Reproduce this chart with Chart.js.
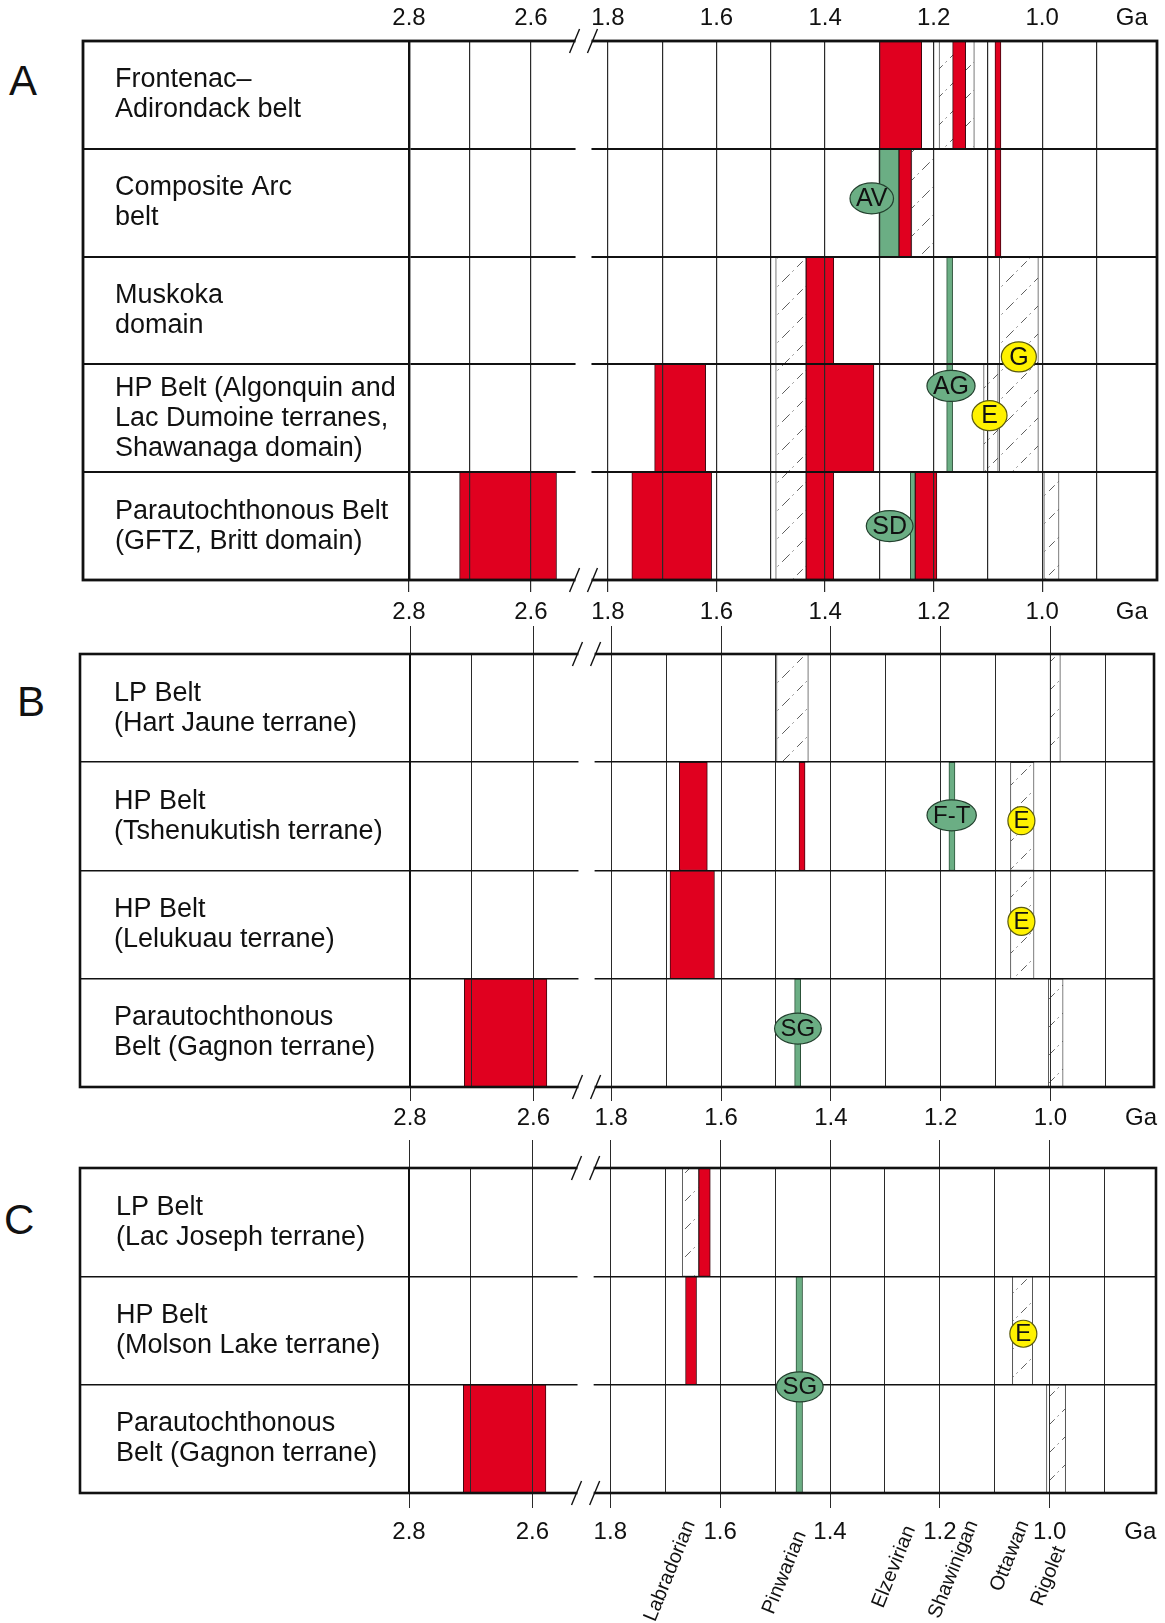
<!DOCTYPE html>
<html>
<head>
<meta charset="utf-8">
<script src="https://cdn.jsdelivr.net/npm/chart.js@4.4.1/dist/chart.umd.min.js"></script>
<style>
  html, body { margin: 0; padding: 0; background: #fff; }
  body { width: 1165px; height: 1623px; position: relative; overflow: hidden; font-family: "Liberation Sans", Arial, sans-serif; }
  canvas { position: absolute; left: 0; }
  .letter { position: absolute; font-size: 42px; line-height: 1; color: #111; }
</style>
</head>
<body>
<div class="letter" style="left:9px;top:60px">A</div>
<div class="letter" style="left:17px;top:681px">B</div>
<div class="letter" style="left:4px;top:1199px">C</div>
<canvas id="chartA" width="1165" height="640" style="top:0px"></canvas>
<canvas id="chartB" width="1165" height="522" style="top:620px"></canvas>
<canvas id="chartC" width="1165" height="493" style="top:1130px"></canvas>
<script>
// time axis (Ga), broken between 2.5 and 1.8
const tickAges = [2.8, 2.7, 2.6, 1.8, 1.7, 1.6, 1.5, 1.4, 1.3, 1.2, 1.1, 1.0, 0.9, 0.835];
const tickLabels = ['2.8', '', '2.6', '1.8', '', '1.6', '', '1.4', '', '1.2', '', '1.0', '', 'Ga'];

const orogenyNames = ['Labradorian', 'Pinwarian', 'Elzevirian', 'Shawinigan', 'Ottawan', 'Rigolet'];
const orogenyAges = [1.655, 1.445, 1.25, 1.14, 1.047, 0.962];

// panel A  -  bars are [first row, last row, older Ga, younger Ga]
const rowsA = [
  ['Frontenac–', 'Adirondack belt'],
  ['Composite Arc', 'belt'],
  ['Muskoka', 'domain'],
  ['HP Belt (Algonquin and', 'Lac Dumoine terranes,', 'Shawanaga domain)'],
  ['Parautochthonous Belt', '(GFTZ, Britt domain)']
];
const redA = [
  [0, 0, 1.300, 1.222], [0, 0, 1.165, 1.141], [0, 1, 1.087, 1.076],
  [1, 1, 1.264, 1.241],
  [2, 2, 1.435, 1.384],
  [3, 3, 1.714, 1.620], [3, 3, 1.435, 1.310],
  [4, 4, 2.717, 2.558], [4, 4, 1.756, 1.609], [4, 4, 1.435, 1.384], [4, 4, 1.234, 1.194]
];
const greenA = [[1, 1, 1.301, 1.264], [2, 3, 1.176, 1.165], [4, 4, 1.243, 1.234]];
const hatchA = [
  [0, 0, 1.190, 1.125], [1, 1, 1.241, 1.200], [2, 4, 1.491, 1.435],
  [2, 3, 1.079, 1.007], [3, 3, 1.108, 1.081], [4, 4, 0.997, 0.969]
];
const markTextA = ['AV', 'AG', 'SD', 'G', 'E'];
const markAgeA = [1.314, 1.168, 1.281, 1.043, 1.097];
const markRowA = [0.96, 2.70, 4.0, 2.43, 2.975];

// panel B
const rowsB = [
  ['LP Belt', '(Hart Jaune terrane)'],
  ['HP Belt', '(Tshenukutish terrane)'],
  ['HP Belt', '(Lelukuau terrane)'],
  ['Parautochthonous', 'Belt (Gagnon terrane)']
];
const redB = [[1, 1, 1.676, 1.625], [1, 1, 1.458, 1.447], [2, 2, 1.693, 1.612], [3, 3, 2.712, 2.578]];
const greenB = [[1, 1, 1.185, 1.174], [3, 3, 1.466, 1.455]];
const hatchB = [[0, 0, 1.499, 1.441], [0, 0, 1.001, 0.982], [1, 2, 1.073, 1.030], [3, 3, 1.004, 0.977]];
const markTextB = ['F-T', 'E', 'E', 'SG'];
const markAgeB = [1.180, 1.053, 1.053, 1.460];
const markRowB = [0.99, 1.04, 1.97, 2.96];

// panel C
const rowsC = [
  ['LP Belt', '(Lac Joseph terrane)'],
  ['HP Belt', '(Molson Lake terrane)'],
  ['Parautochthonous', 'Belt (Gagnon terrane)']
];
const redC = [[0, 0, 1.639, 1.618], [1, 1, 1.663, 1.643], [2, 2, 2.712, 2.578]];
const greenC = [[1, 2, 1.462, 1.450]];
const hatchC = [[0, 0, 1.669, 1.639], [1, 1, 1.068, 1.031], [2, 2, 1.006, 0.971]];
const markTextC = ['E', 'SG'];
const markAgeC = [1.048, 1.455];
const markRowC = [1.03, 1.52];

const RED = '#E0001F';
const GREEN = '#6BAE84';
const YELLOW = '#FFF200';
const BREAK_U = [3.05, 3.38];
// trailing spaces that push a rotated orogeny name further down its slant
const orogenyDrop = [0, 2, 1, 0, 0, 5];

Chart.defaults.font.family = '"Liberation Sans", Arial, sans-serif';
Chart.defaults.color = '#111';

// position on the drawn axis: left part 2.8-2.5 Ga, right part from 1.8 Ga
function toU(age) {
  if (age >= 2.5) return (2.8 - age) * 11.23;
  return 3.665 + (1.8 - age) * 10;
}

function isLabeled(i) {
  return tickLabels[i] !== '' && tickLabels[i] !== 'Ga';
}

function setTimeTicks(scale) {
  scale.ticks = tickAges.map(function (a) { return { value: toU(a) }; });
}

function makeHatch() {
  var c = document.createElement('canvas');
  c.width = 28; c.height = 28;
  var g = c.getContext('2d');
  g.fillStyle = '#fff';
  g.fillRect(0, 0, 28, 28);
  g.strokeStyle = '#5e5e5e';
  g.lineWidth = 1;
  g.setLineDash([8, 4, 1.5, 5]);
  g.beginPath();
  g.moveTo(0, 28);
  g.lineTo(28, 0);
  g.stroke();
  return g.createPattern(c, 'repeat');
}
const hatchFill = makeHatch();

// one bar piece for each row a bar covers
function expandBars(rows, list) {
  var keys = rows.map(function (r) { return r.join(' '); });
  var out = [];
  list.forEach(function (b) {
    for (var r = b[0]; r <= b[1]; r++) {
      out.push({ y: keys[r], x: [toU(b[2]), toU(b[3])] });
    }
  });
  return out;
}

function decorPlugin(markText, markAge, markRow, L) {
  return {
    id: 'panelDecor',
    afterDraw: function (chart) {
      var ctx = chart.ctx;
      var area = chart.chartArea;
      var xs = chart.scales.x;
      var ys = chart.scales.y;
      var left = area.left - ys.options.grid.tickLength;
      ctx.save();

      // outer frame
      ctx.strokeStyle = '#111';
      ctx.lineWidth = L.frame;
      ctx.strokeRect(left, area.top, area.right - left, area.bottom - area.top);

      // axis break: gap and double slashes
      var b0 = xs.getPixelForValue(BREAK_U[0]);
      var b1 = xs.getPixelForValue(BREAK_U[1]);
      ctx.fillStyle = '#fff';
      ctx.fillRect(b0 + 1, area.top - 3, b1 - b0 - 2, area.bottom - area.top + 6);
      ctx.lineWidth = 1.4;
      [area.top, area.bottom].forEach(function (yy) {
        [b0, b1].forEach(function (xx) {
          ctx.beginPath();
          ctx.moveTo(xx - 5, yy + 12);
          ctx.lineTo(xx + 5, yy - 12);
          ctx.stroke();
        });
      });

      // labelled ellipses
      ctx.font = L.markFont + 'px "Liberation Sans", Arial, sans-serif';
      ctx.textAlign = 'center';
      ctx.textBaseline = 'middle';
      markText.forEach(function (t, i) {
        var x = xs.getPixelForValue(toU(markAge[i]));
        var y = ys.getPixelForValue(markRow[i]);
        var w = ctx.measureText(t).width;
        var yellow = (t === 'E' || t === 'G');
        ctx.beginPath();
        if (yellow) {
          ctx.ellipse(x, y, L.yellowRx, L.yellowRy, 0, 0, Math.PI * 2);
        } else {
          ctx.ellipse(x, y, w / 2 + 6, L.greenRy, 0, 0, Math.PI * 2);
        }
        ctx.fillStyle = yellow ? YELLOW : GREEN;
        ctx.fill();
        ctx.lineWidth = 1.2;
        ctx.strokeStyle = yellow ? '#5a5a10' : '#23402e';
        ctx.stroke();
        ctx.fillStyle = '#111';
        ctx.fillText(t, x, y + 1);
      });
      ctx.restore();
    }
  };
}

function drawPanel(canvasId, rows, red, green, hatch, markText, markAge, markRow, L) {
  var canvas = document.getElementById(canvasId);
  var keys = rows.map(function (r) { return r.join(' '); });
  var barStyle = { xAxisID: 'x', yAxisID: 'y', borderSkipped: false, grouped: false, barPercentage: 1, categoryPercentage: 1, borderWidth: 1 };

  var scales = {
    x: {
      type: 'linear', position: 'bottom', weight: 0, min: 0, max: L.xMax,
      afterBuildTicks: setTimeTicks,
      afterFit: function (s) { s.height = L.bottomH; },
      grid: {
        z: 1,
        lineWidth: L.gridLine,
        color: function (c) { return tickLabels[c.index] === 'Ga' ? 'rgba(0,0,0,0)' : '#2a2a2a'; },
        tickLength: L.bottomTick,
        tickColor: function (c) { return isLabeled(c.index) ? '#2a2a2a' : 'rgba(0,0,0,0)'; }
      },
      border: { display: false },
      ticks: {
        autoSkip: false, minRotation: 0, maxRotation: 0,
        mirror: !!L.bottomMirror, padding: L.bottomPad,
        font: { size: 24 },
        callback: function (v, i) { return tickLabels[i]; }
      }
    },
    xt: {
      type: 'linear', position: 'top', min: 0, max: L.xMax,
      afterBuildTicks: setTimeTicks,
      afterFit: function (s) { s.height = L.topH; },
      grid: {
        drawOnChartArea: false,
        drawTicks: L.topTick > 0,
        tickLength: L.topTick,
        tickColor: function (c) { return isLabeled(c.index) ? '#2a2a2a' : 'rgba(0,0,0,0)'; }
      },
      border: { display: false },
      ticks: {
        display: L.topLabels, autoSkip: false, minRotation: 0, maxRotation: 0, padding: 8,
        font: { size: 24 },
        callback: function (v, i) { return tickLabels[i]; }
      }
    },
    y: {
      type: 'category', position: 'left', offset: true,
      afterFit: function (s) { s.width = L.chartLeft - L.labelX; },
      grid: { offset: true, z: 1, color: '#111', lineWidth: L.rowLine, tickLength: L.chartLeft - L.frameLeft },
      border: { display: true, z: 2, color: '#111', width: L.rowLine + 0.4 },
      ticks: {
        crossAlign: 'far', autoSkip: false,
        font: { size: 27, lineHeight: 1.11 },
        callback: function (v, i) { return rows[i]; }
      }
    }
  };

  if (L.orogenyH) {
    scales.xo = {
      type: 'linear', position: 'bottom', weight: 1, min: 0, max: L.xMax,
      afterBuildTicks: function (s) { s.ticks = orogenyAges.map(function (a) { return { value: toU(a) }; }); },
      afterFit: function (s) { s.height = L.orogenyH; },
      grid: { display: false },
      border: { display: false },
      ticks: {
        autoSkip: false, minRotation: 68, maxRotation: 68, padding: 4,
        font: { size: 20 },
        callback: function (v, i) { return orogenyNames[i] + ' '.repeat(orogenyDrop[i]); }
      }
    };
  }

  return new Chart(canvas.getContext('2d'), {
    type: 'bar',
    data: {
      labels: keys,
      // first dataset is drawn on top
      datasets: [
        Object.assign({ label: 'red', data: expandBars(rows, red), backgroundColor: RED, borderColor: '#3b0810' }, barStyle),
        Object.assign({ label: 'green', data: expandBars(rows, green), backgroundColor: GREEN, borderColor: '#2c5239' }, barStyle),
        Object.assign({ label: 'hatched', data: expandBars(rows, hatch), backgroundColor: hatchFill, borderColor: '#555' }, barStyle)
      ]
    },
    options: {
      indexAxis: 'y',
      responsive: false,
      animation: false,
      layout: { padding: { left: L.labelX, right: 1165 - L.right, top: 0, bottom: 0 } },
      plugins: { legend: { display: false }, tooltip: { enabled: false } },
      scales: scales
    },
    plugins: [decorPlugin(markText, markAge, markRow, L)]
  });
}

drawPanel('chartA', rowsA, redA, greenA, hatchA, markTextA, markAgeA, markRowA, {
  labelX: 115, chartLeft: 409, frameLeft: 83, right: 1157, xMax: 13.78,
  topH: 41, topLabels: true, topTick: 0,
  bottomH: 60, bottomTick: 12, bottomPad: 6,
  rowLine: 2, gridLine: 1.2, frame: 2.8,
  markFont: 25, greenRy: 15.5, yellowRx: 17.5, yellowRy: 15
});

drawPanel('chartB', rowsB, redB, greenB, hatchB, markTextB, markAgeB, markRowB, {
  labelX: 114, chartLeft: 410, frameLeft: 80, right: 1154, xMax: 13.55,
  topH: 34, topLabels: false, topTick: 28,
  bottomH: 55, bottomTick: 14, bottomPad: 3,
  rowLine: 1.6, gridLine: 1, frame: 2.6,
  markFont: 24, greenRy: 15.5, yellowRx: 13.5, yellowRy: 14
});

drawPanel('chartC', rowsC, redC, greenC, hatchC, markTextC, markAgeC, markRowC, {
  labelX: 116, chartLeft: 409, frameLeft: 80, right: 1156, xMax: 13.6,
  topH: 38, topLabels: false, topTick: 28,
  bottomH: 12, bottomTick: 15, bottomMirror: true, bottomPad: -54,
  orogenyH: 118,
  rowLine: 1.6, gridLine: 1, frame: 2.6,
  markFont: 24, greenRy: 15, yellowRx: 13.5, yellowRy: 13.5
});
</script>
</body>
</html>
